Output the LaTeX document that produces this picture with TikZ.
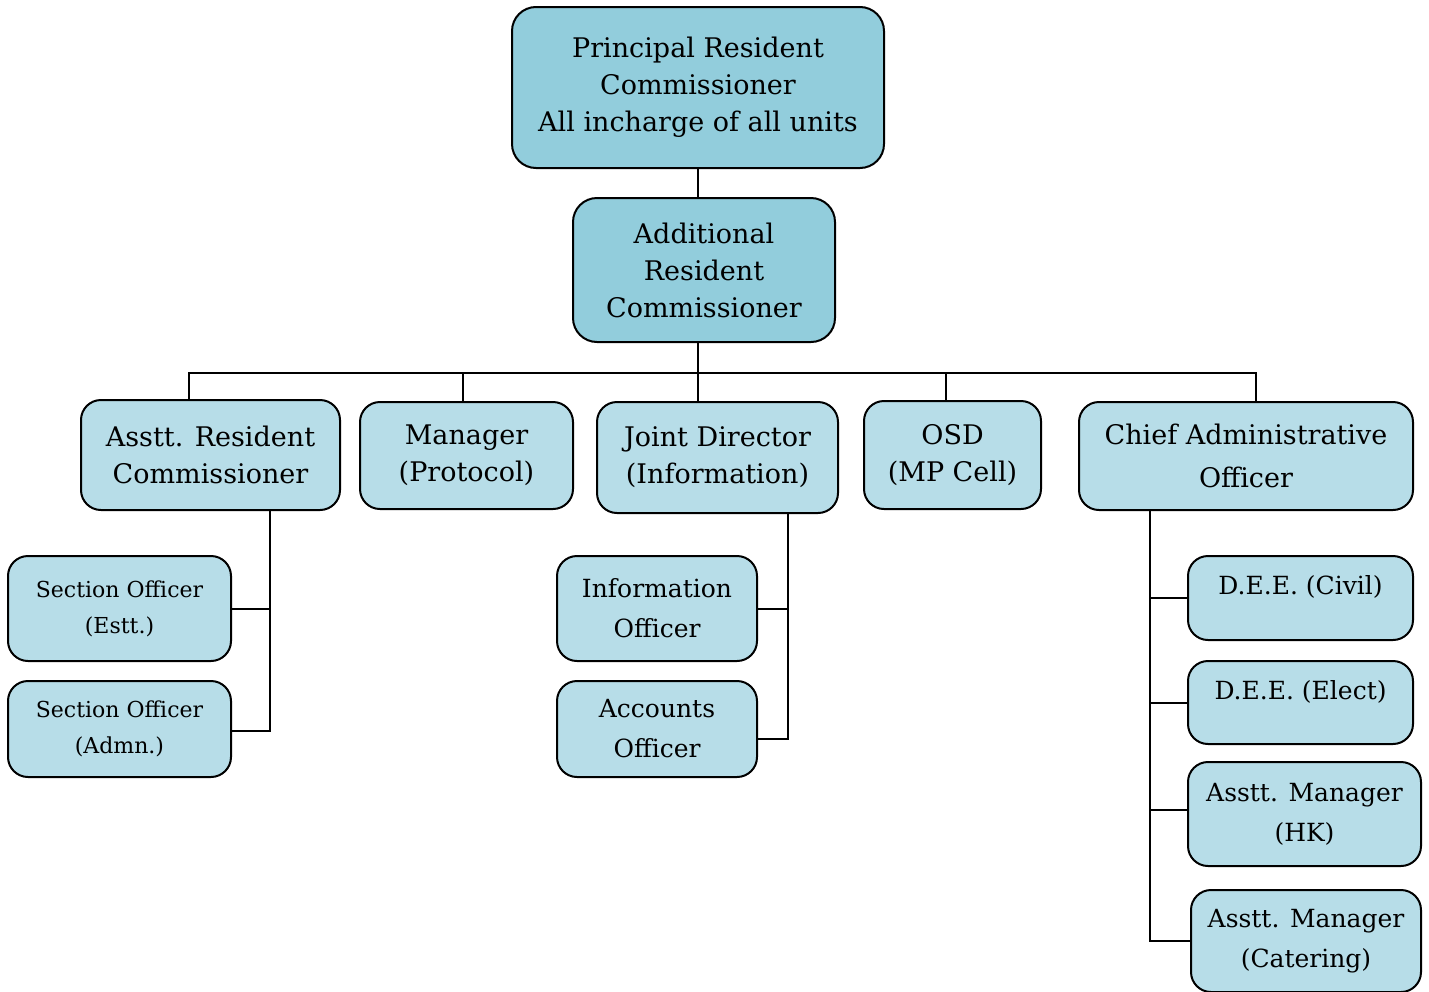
\documentclass[tikz,border=0pt]{standalone}
\usepackage{fontspec}
\setmainfont{DejaVu Serif}
\usepackage{xcolor}
\usepackage{tikz}
\usetikzlibrary{positioning, calc}
\definecolor{topfill}{HTML}{92CDDC}
\definecolor{boxfill}{HTML}{B7DDE8}
\begin{document}
\begin{tikzpicture}[
    x=0.5pt, y=-0.5pt,
    box/.style={rectangle, rounded corners=10pt, draw=black, line width=1pt, fill=#1, align=center, inner sep=0pt, font=\fontsize{13.5}{18.5}\selectfont},
    box/.default=boxfill,
    subbox/.style={box, font=\fontsize{12.5}{20}\selectfont},
    sobox/.style={box, font=\fontsize{11}{18}\selectfont},
    link/.style={line width=1pt, draw=black},
]
\useasboundingbox (0,0) rectangle (1429,991);
\node[box=topfill, rounded corners=12pt, minimum width=186pt, minimum height=80.5pt] (prc) at (698,87.5) {Principal Resident\\Commissioner\\All incharge of all units};
\node[box=topfill, rounded corners=12pt, minimum width=131pt, minimum height=72pt] (arc) at (704,270) {Additional\\Resident\\Commissioner};
\node[box, minimum width=129.5pt, minimum height=55pt] (asrc) at (210.5,455) {Asstt. Resident\\Commissioner};
\node[box, minimum width=106.5pt, minimum height=53.5pt] (mgr) at (466.5,455.5) {Manager\\(Protocol)};
\node[box, minimum width=120.5pt, minimum height=55.5pt] (jd) at (717.5,457.5) {Joint Director\\(Information)};
\node[box, minimum width=88.5pt, minimum height=54pt] (osd) at (952.5,455) {OSD\\(MP Cell)};
\node[box, font=\fontsize{13.5}{21.5}\selectfont, minimum width=167pt, minimum height=54pt] (cao) at (1246,456) {Chief Administrative\\Officer};
\node[sobox, minimum width=111.5pt, minimum height=52.5pt] (soe) at (119.5,608.5) {Section Officer\\(Estt.)};
\node[sobox, minimum width=111.5pt, minimum height=48pt] (soa) at (119.5,729) {Section Officer\\(Admn.)};
\node[subbox, minimum width=100pt, minimum height=52.5pt] (info) at (657,608.5) {Information\\Officer};
\node[subbox, minimum width=100pt, minimum height=48pt] (acct) at (657,729) {Accounts\\Officer};
\node[subbox, text depth=13pt, minimum width=112.5pt, minimum height=42pt] (deec) at (1300.5,598) {D.E.E. (Civil)};
\node[subbox, text depth=13pt, minimum width=112.5pt, minimum height=41.5pt] (deee) at (1300.5,702.5) {D.E.E. (Elect)};
\node[subbox, minimum width=116.5pt, minimum height=52pt] (amhk) at (1304.5,814) {Asstt. Manager\\(HK)};
\node[subbox, minimum width=115pt, minimum height=51pt] (amc) at (1306,941) {Asstt. Manager\\(Catering)};
\coordinate (bus) at (698,373);
\draw[link] (prc.south) -- (prc.south |- arc.north);
\draw[link] (prc.south |- arc.south) -- (bus);
\draw[link] ([xshift=-10.75pt]asrc.north) |- (bus);
\draw[link] ([xshift=-1.75pt]mgr.north) |- (bus);
\draw[link] (jd.north -| bus) -- (bus);
\draw[link] ([xshift=-3.25pt]osd.north) |- (bus);
\draw[link] ([xshift=5pt]cao.north) |- (bus);
\draw[link] (soe.east) -| ([xshift=29.75pt]asrc.south);
\draw[link] ([yshift=-1pt]soa.east) -| ([xshift=29.75pt]asrc.south);
\draw[link] (info.east) -| ([xshift=35.25pt]jd.south);
\draw[link] ([yshift=-5pt]acct.east) -| ([xshift=35.25pt]jd.south);
\draw[link] (deec.west) -| ([xshift=-48pt]cao.south);
\draw[link] (deee.west) -| ([xshift=-48pt]cao.south);
\draw[link] ([yshift=2pt]amhk.west) -| ([xshift=-48pt]cao.south);
\draw[link] (amc.west) -| ([xshift=-48pt]cao.south);
\end{tikzpicture}
\end{document}
